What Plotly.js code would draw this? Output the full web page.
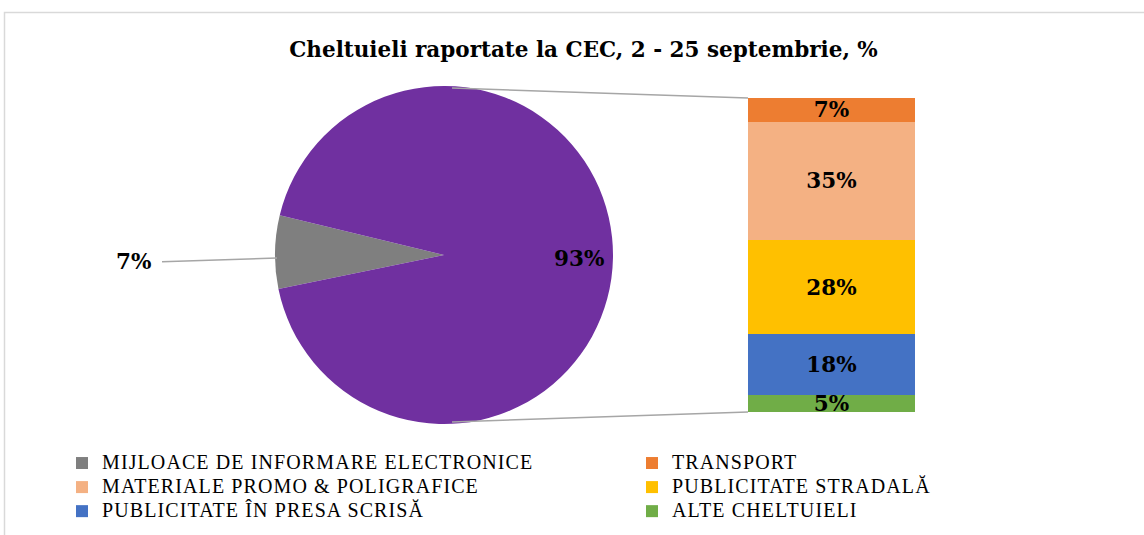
<!DOCTYPE html>
<html>
<head>
<meta charset="utf-8">
<script src="https://cdn.plot.ly/plotly-3.0.1.min.js"></script>
<style>html,body{margin:0;padding:0;background:#fff;}#chart{width:1144px;height:535px;}</style>
</head>
<body>
<div id="chart"></div>
<script>
// ---- data ----
const pieLabels = ["MIJLOACE DE INFORMARE ELECTRONICE", "Alte categorii"];
const pieValues = [7, 93];
const pieColors = ["#7F7F7F", "#7030A0"];

const barCategories = ["ALTE CHELTUIELI", "PUBLICITATE ÎN PRESA SCRISĂ", "PUBLICITATE STRADALĂ", "MATERIALE PROMO & POLIGRAFICE", "TRANSPORT"];
const barValues = [5, 18, 28, 35, 7];
const barColors = ["#70AD47", "#4472C4", "#FFC000", "#F4B183", "#ED7D31"];
// legend placement: column (legend / legend2) and rank inside the column
const barLegend = ["legend2", "legend", "legend2", "legend", "legend2"];
const barLegendRank = [3, 3, 2, 2, 1];

const W = 1144, H = 535;
// layout geometry (pixels)
const pieCx = 444, pieCy = 255, pieR = 169;
const barL = 748, barR = 915, barTop = 98, barBot = 412;

const px = v => v / W;
const py = v => 1 - v / H;

const serifBold = {family: "DejaVu Serif", size: 21.5, color: "#000", weight: "bold"};
const legName = s => '<span style="font-size:20px;letter-spacing:1.1px">' + s + '</span>';

const traces = [];
traces.push({
  type: "pie",
  labels: pieLabels,
  values: pieValues,
  marker: {colors: pieColors, line: {width: 0}},
  sort: false,
  direction: "clockwise",
  rotation: 270 - pieValues[0] * 3.6 / 2 + 1,
  textinfo: "none",
  showlegend: false,
  hoverinfo: "label+percent",
  domain: {x: [px(pieCx - pieR), px(pieCx + pieR)], y: [py(pieCy + pieR), py(pieCy - pieR)]}
});

// legend-only entry for the grey pie slice (first legend item)
traces.push({
  type: "bar",
  name: legName(pieLabels[0]),
  x: ["total"],
  y: [null],
  marker: {color: pieColors[0]},
  legend: "legend",
  legendrank: 1,
  xaxis: "x", yaxis: "y",
  hoverinfo: "skip"
});

barCategories.forEach((c, i) => {
  traces.push({
    type: "bar",
    name: legName(c),
    x: ["total"],
    y: [barValues[i]],
    width: [1],
    marker: {color: barColors[i], line: {width: 0}},
    text: [barValues[i] + "%"],
    textposition: "inside",
    insidetextanchor: "middle",
    constraintext: "none",
    textfont: serifBold,
    legend: barLegend[i],
    legendrank: barLegendRank[i],
    xaxis: "x", yaxis: "y",
    hovertemplate: c + ": %{y}%<extra></extra>"
  });
});

const barTotal = barValues.reduce((a, b) => a + b, 0);

// grey slice: edge point on the left of the pie, slightly below horizontal
const tilt = 1 * Math.PI / 180;
const ex = pieCx - pieR * Math.cos(tilt);
const ey = pieCy + pieR * Math.sin(tilt);
// purple slice label: centre of the big slice (opposite side), at 0.8 radius
const lx = pieCx + 0.8 * pieR * Math.cos(tilt);
const ly = pieCy + 3;

const legendCommon = {
  orientation: "v",
  yanchor: "top",
  font: {family: "Liberation Serif", size: 16.2, color: "#000"},
  itemwidth: 30,
  traceorder: "normal",
  bgcolor: "rgba(0,0,0,0)",
  borderwidth: 0
};

const layout = {
  width: W, height: H,
  margin: {l: 0, r: 0, t: 0, b: 0},
  paper_bgcolor: "#fff",
  plot_bgcolor: "rgba(0,0,0,0)",
  barmode: "stack",
  bargap: 0,
  title: {
    text: "Cheltuieli raportate la CEC, 2 - 25 septembrie, %",
    font: {family: "DejaVu Serif", size: 21.5, color: "#000", weight: "bold"},
    x: px(583.5), xanchor: "center", xref: "paper",
    y: py(49), yanchor: "middle", yref: "paper"
  },
  xaxis: {domain: [px(barL), px(barR)], range: [-0.5, 0.5], visible: false, fixedrange: true, type: "category"},
  yaxis: {domain: [py(barBot), py(barTop)], range: [0, barTotal], visible: false, fixedrange: true},
  showlegend: true,
  legend: Object.assign({}, legendCommon, {x: px(62), xanchor: "left", y: py(446)}),
  legend2: Object.assign({}, legendCommon, {x: px(632), xanchor: "left", y: py(446)}),
  shapes: [
    {type: "rect", xref: "paper", yref: "paper", x0: px(4.5), x1: 1.05, y0: -0.05, y1: py(12.5),
     line: {color: "#D9D9D9", width: 1.5}, fillcolor: "rgba(0,0,0,0)", layer: "below"},
    {type: "line", xref: "paper", yref: "paper", x0: px(pieCx + 8), y0: py(pieCy - pieR + 2), x1: px(barL), y1: py(barTop),
     line: {color: "#A6A6A6", width: 1.5}},
    {type: "line", xref: "paper", yref: "paper", x0: px(pieCx + 8), y0: py(pieCy + pieR - 2), x1: px(barL), y1: py(barBot),
     line: {color: "#A6A6A6", width: 1.5}}
  ],
  annotations: [
    {xref: "paper", yref: "paper", x: px(ex + 2), y: py(ey), ax: -124, ay: 4,
     text: pieValues[0] + "%", showarrow: true, arrowhead: 0, arrowwidth: 1.5, arrowcolor: "#A6A6A6",
     font: serifBold, xanchor: "right", standoff: 0, startstandoff: 9},
    {xref: "paper", yref: "paper", x: px(lx), y: py(ly), showarrow: false,
     text: pieValues[1] + "%", font: serifBold, xanchor: "center", yanchor: "middle"}
  ]
};

Plotly.newPlot("chart", traces, layout, {displayModeBar: false, staticPlot: true});
</script>
</body>
</html>
